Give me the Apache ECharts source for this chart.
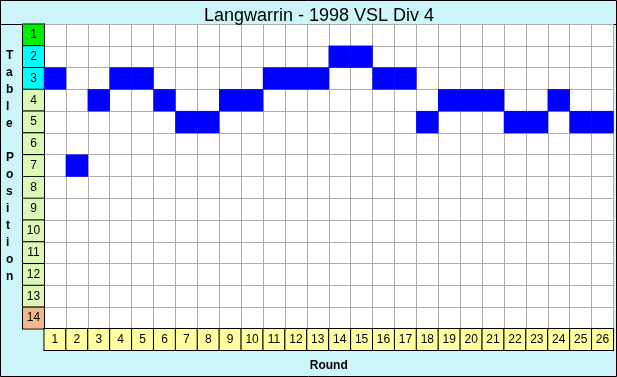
<!DOCTYPE html>
<html>
<head>
<meta charset="utf-8">
<script src="https://cdn.jsdelivr.net/npm/echarts@6/dist/echarts.min.js"></script>
<style>
  html, body { margin: 0; padding: 0; background: #ccf5fa; }
  #chart { width: 617px; height: 377px; }
</style>
</head>
<body>
<div id="chart"></div>
<script>
// Rounds along the bottom, table positions down the side
const rounds = ['1', '2', '3', '4', '5', '6', '7', '8', '9', '10', '11', '12', '13',
  '14', '15', '16', '17', '18', '19', '20', '21', '22', '23', '24', '25', '26'];
const positions = ['1', '2', '3', '4', '5', '6', '7', '8', '9', '10', '11', '12', '13', '14'];

// Ladder position after each round
const ladder = [3, 7, 4, 3, 3, 4, 5, 5, 4, 4, 3, 3, 3, 2, 2, 3, 3, 5, 4, 4, 4, 5, 5, 4, 5, 5];

// Position label cell colours (promotion / finals / middle / relegation)
const positionColors = ['#00ee00', '#00ffff', '#00ffff', '#ddf7b4', '#ddf7b4', '#ddf7b4',
  '#ddf7b4', '#ddf7b4', '#ddf7b4', '#ddf7b4', '#ddf7b4', '#ddf7b4', '#ddf7b4', '#f4b890'];

const FONT = '"Liberation Sans", Arial, sans-serif';

const cells = ladder.map((p, i) => [i, p - 1, 1]);

const rich = {};
positionColors.forEach((c, i) => {
  rich['p' + i] = {
    backgroundColor: c,
    borderColor: '#000',
    borderWidth: 1,
    width: 21,
    height: 21,
    lineHeight: 21,
    align: 'center',
    color: '#000',
    fontSize: 12,
    fontFamily: FONT,
  };
});

const chart = echarts.init(document.getElementById('chart'), null, { renderer: 'canvas' });

chart.setOption({
  backgroundColor: '#ccf5fa',
  animation: false,
  title: {
    text: 'Langwarrin - 1998 VSL Div 4',
    left: 199,
    top: 2,
    textStyle: { fontFamily: FONT, fontSize: 18, fontWeight: 'normal', color: '#000' },
  },
  grid: { left: 44, right: 1, top: 24, bottom: 45, show: true, backgroundColor: '#fff', borderWidth: 0 },
  xAxis: {
    type: 'category',
    data: rounds,
    name: 'Round',
    nameLocation: 'middle',
    nameGap: 31,
    nameTextStyle: { fontFamily: FONT, fontSize: 12, fontWeight: 'bold', color: '#000' },
    axisLine: { show: true, lineStyle: { color: '#000', width: 1 } },
    axisTick: { show: false },
    splitLine: { show: true, lineStyle: { color: '#b0aca4', width: 1 } },
    axisLabel: {
      margin: 0,
      interval: 0,
      backgroundColor: '#ffffa0',
      borderColor: '#000',
      borderWidth: 1,
      width: 21,
      height: 21,
      lineHeight: 21,
      align: 'center',
      color: '#000',
      fontSize: 12,
      fontFamily: FONT,
    },
  },
  yAxis: {
    type: 'category',
    data: positions,
    inverse: true,
    axisLine: { show: true, lineStyle: { color: '#000', width: 1 } },
    axisTick: { show: false },
    splitLine: { show: true, lineStyle: { color: '#b0aca4', width: 1 } },
    axisLabel: {
      margin: 0,
      interval: 0,
      formatter: (v, i) => '{p' + i + '|' + v + '}',
      rich: rich,
    },
  },
  visualMap: { show: false, min: 0, max: 1, inRange: { color: ['#0000ff', '#0000ff'] } },
  series: [{
    type: 'heatmap',
    data: cells,
    itemStyle: { color: '#0000ff' },
    emphasis: { disabled: true },
  }],
  graphic: [
    {
      type: 'text',
      left: 6,
      top: 47,
      style: {
        text: 'T\na\nb\nl\ne\n\nP\no\ns\ni\nt\ni\no\nn',
        fontFamily: FONT,
        fontSize: 12,
        fontWeight: 'bold',
        lineHeight: 17,
        align: 'center',
        fill: '#000',
      },
    },
    { type: 'line', shape: { x1: 0, y1: 24.5, x2: 617, y2: 24.5 }, style: { stroke: '#000', lineWidth: 1 } },
    { type: 'rect', shape: { x: 0.5, y: 0.5, width: 616, height: 376 }, style: { fill: 'none', stroke: '#000', lineWidth: 1 } },
  ],
});
</script>
</body>
</html>
